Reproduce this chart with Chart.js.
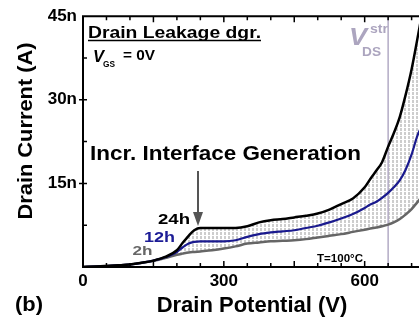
<!DOCTYPE html>
<html>
<head>
<meta charset="utf-8">
<script src="https://cdn.jsdelivr.net/npm/chart.js@4.4.1/dist/chart.umd.min.js"></script>
<style>
  html, body { margin: 0; padding: 0; background: #fff; overflow: hidden; }
  canvas { display: block; }
</style>
</head>
<body>
<canvas id="leakChart" width="425" height="324"></canvas>
<script>
// drain potential sample points (V)
const drainV = [0, 25, 50, 75, 100, 125, 150, 175, 200, 212, 225, 237, 250, 275, 300, 325, 350, 375, 400,
  425, 450, 475, 500, 525, 550, 575, 600, 612, 625, 637, 650, 662, 675, 687, 700, 712, 720];
// drain current (nA) after 24h / 12h / 2h of stress
const i24h = [0, 0.08, 0.18, 0.3, 0.45, 0.75, 1.15, 1.8, 3.0, 4.3, 5.6, 6.6, 7.0, 7.0, 7.0, 7.0, 7.3, 8.0, 8.4,
  8.6, 8.9, 9.2, 9.6, 10.3, 11.3, 12.3, 14.3, 15.8, 17.3, 18.8, 21.6, 24.0, 27.0, 30.8, 35.5, 40.8, 44.5];
const i12h = [0, 0.08, 0.18, 0.3, 0.45, 0.75, 1.15, 1.75, 2.7, 3.5, 4.2, 4.5, 4.6, 4.6, 4.6, 4.8, 5.4, 5.9, 6.2,
  6.4, 6.6, 7.0, 7.4, 8.0, 8.7, 9.5, 10.6, 11.2, 11.7, 12.4, 13.3, 14.3, 15.6, 17.4, 20.2, 23.5, 25.0];
const i2h = [0, 0.08, 0.18, 0.3, 0.45, 0.75, 1.1, 1.6, 2.2, 2.4, 2.6, 2.7, 2.8, 3.0, 3.3, 3.7, 4.2, 4.4, 4.6,
  4.7, 4.8, 5.0, 5.3, 5.6, 5.9, 6.3, 6.7, 6.9, 7.1, 7.3, 7.6, 8.0, 8.6, 9.4, 10.4, 11.6, 12.4];
const xTickLabels = [0, 300, 600];
const yTickLabels = [15, 30, 45];
const stressV = 650;

const FONT = "'Liberation Sans', Arial, sans-serif";
const canvas = document.getElementById('leakChart');
const ctx = canvas.getContext('2d');

// dashed gray hatching between the 2h and 24h curves
const tile = document.createElement('canvas');
tile.width = 4;
tile.height = 4;
const tctx = tile.getContext('2d');
tctx.fillStyle = '#cdcdcd';
tctx.fillRect(0, 0, 2, 3);
const hatch = ctx.createPattern(tile, 'repeat');

function pts(vals) {
  return drainV.map((v, i) => ({ x: v, y: vals[i] }));
}

// text squeezed/stretched to the width it has in the figure
function putText(c, text, x, y, size, width, color, style) {
  c.save();
  c.font = (style || 'bold') + ' ' + size + 'px ' + FONT;
  c.fillStyle = color;
  c.textBaseline = 'alphabetic';
  c.textAlign = 'left';
  const w = c.measureText(text).width;
  c.translate(x, y);
  c.scale(width / w, 1);
  c.fillText(text, 0, 0);
  c.restore();
}

const framePlugin = {
  id: 'frame',
  beforeDatasetsDraw(chart) {
    const { ctx, chartArea: a, scales: { x } } = chart;
    const sx = x.getPixelForValue(stressV);
    ctx.save();
    ctx.strokeStyle = '#b3abc5';
    ctx.lineWidth = 1.5;
    ctx.beginPath();
    ctx.moveTo(sx, a.top);
    ctx.lineTo(sx, a.bottom);
    ctx.stroke();
    ctx.restore();
  },
  afterDatasetsDraw(chart) {
    const { ctx, chartArea: a, scales: { x, y } } = chart;
    ctx.save();
    ctx.strokeStyle = '#000';
    ctx.lineWidth = 2;
    ctx.beginPath();
    ctx.moveTo(a.left, a.top);
    ctx.lineTo(a.left, a.bottom);
    ctx.moveTo(a.left - 1, a.bottom);
    ctx.lineTo(chart.width, a.bottom);
    ctx.moveTo(a.left - 1, a.top);
    ctx.lineTo(chart.width, a.top);
    ctx.stroke();

    ctx.lineWidth = 1.5;
    ctx.beginPath();
    for (let v = 50; v <= 700; v += 50) {
      const px = x.getPixelForValue(v);
      const len = v % 150 === 0 ? 6 : 4;
      ctx.moveTo(px, a.bottom);
      ctx.lineTo(px, a.bottom - len);
      ctx.moveTo(px, a.top);
      ctx.lineTo(px, a.top + len);
    }
    for (let v = 7.5; v < 45; v += 7.5) {
      const py = y.getPixelForValue(v);
      const major = v % 15 === 0;
      ctx.moveTo(a.left - (major ? 4 : 0), py);
      ctx.lineTo(a.left + 4, py);
    }
    ctx.stroke();
    ctx.restore();
  },
  afterDraw(chart) {
    const c = chart.ctx;
    // panel heading
    putText(c, 'Drain Leakage dgr.', 88, 37.5, 16, 173, '#000');
    c.save();
    c.strokeStyle = '#000';
    c.lineWidth = 1.5;
    c.beginPath();
    c.moveTo(88, 40.5);
    c.lineTo(261, 40.5);
    c.stroke();
    c.restore();

    putText(c, 'V', 93, 61.5, 16, 11, '#000', 'italic bold');
    putText(c, 'GS', 103, 66.5, 9, 12, '#000');
    putText(c, '= 0V', 123, 60, 15, 32, '#000');

    putText(c, 'Incr. Interface Generation', 90, 159.5, 20, 271, '#000');

    // arrow
    c.save();
    c.strokeStyle = '#555';
    c.fillStyle = '#555';
    c.lineWidth = 2;
    c.beginPath();
    c.moveTo(198, 171);
    c.lineTo(198, 214);
    c.stroke();
    c.beginPath();
    c.moveTo(193, 212);
    c.lineTo(203, 212);
    c.lineTo(198, 226);
    c.closePath();
    c.fill();
    c.restore();

    putText(c, '24h', 158, 224, 15, 32, '#000');
    putText(c, '12h', 144, 241.5, 14, 31, '#1c1c96');
    putText(c, '2h', 132.5, 254.5, 13, 20, '#666');

    putText(c, 'T=100\u00b0C', 317, 261.5, 11, 46, '#000');

    // stress voltage label
    putText(c, 'V', 349, 45, 24, 18, '#aca5bf', 'italic bold');
    putText(c, 'DS', 362, 55.5, 12, 19, '#aca5bf');
    putText(c, 'str', 370, 33, 13, 18, '#aca5bf');

    putText(c, '(b)', 15, 311, 20, 28, '#000');

    // y axis title
    c.save();
    c.translate(32, 131);
    c.rotate(-Math.PI / 2);
    c.font = 'bold 21px ' + FONT;
    const w = c.measureText('Drain Current (A)').width;
    c.scale(177 / w, 1);
    c.fillStyle = '#000';
    c.textAlign = 'center';
    c.fillText('Drain Current (A)', 0, 0);
    c.restore();
  }
};

new Chart(ctx, {
  type: 'line',
  data: {
    datasets: [
      {
        label: '24h',
        data: pts(i24h),
        borderColor: '#000',
        borderWidth: 2.5,
        pointRadius: 0,
        fill: false
      },
      {
        label: '12h',
        data: pts(i12h),
        borderColor: '#1a1a8e',
        borderWidth: 2.2,
        pointRadius: 0,
        fill: false
      },
      {
        label: '2h',
        data: pts(i2h),
        borderColor: '#666',
        borderWidth: 2.5,
        pointRadius: 0,
        fill: { target: 0 },
        backgroundColor: hatch
      }
    ]
  },
  options: {
    responsive: false,
    animation: false,
    devicePixelRatio: 1,
    layout: { padding: { top: 14, right: 3, left: 0, bottom: 0 } },
    plugins: {
      legend: { display: false },
      tooltip: { enabled: false },
      filler: { drawTime: 'beforeDatasetsDraw' }
    },
    elements: { line: { cubicInterpolationMode: 'monotone' } },
    scales: {
      x: {
        type: 'linear',
        min: 0,
        max: 720,
        grid: { display: false, drawTicks: false },
        border: { display: false },
        afterFit: (s) => { s.height = 57; },
        ticks: {
          stepSize: 50,
          autoSkip: false,
          maxRotation: 0,
          padding: 4,
          color: '#000',
          font: { family: FONT, size: 17, weight: 'bold' },
          callback: (v) => xTickLabels.includes(v) ? String(v) : ''
        },
        title: {
          display: true,
          text: 'Drain Potential (V)',
          color: '#000',
          font: { family: FONT, size: 22, weight: 'bold' },
          padding: { top: 0, bottom: 5 }
        }
      },
      y: {
        min: 0,
        max: 45,
        grid: { display: false, drawTicks: false },
        border: { display: false },
        afterFit: (s) => { s.width = 83; },
        ticks: {
          stepSize: 15,
          padding: 6,
          color: '#000',
          font: { family: FONT, size: 17, weight: 'bold' },
          callback: (v) => yTickLabels.includes(v) ? v + 'n' : ''
        }
      }
    }
  },
  plugins: [framePlugin]
});
</script>
</body>
</html>
